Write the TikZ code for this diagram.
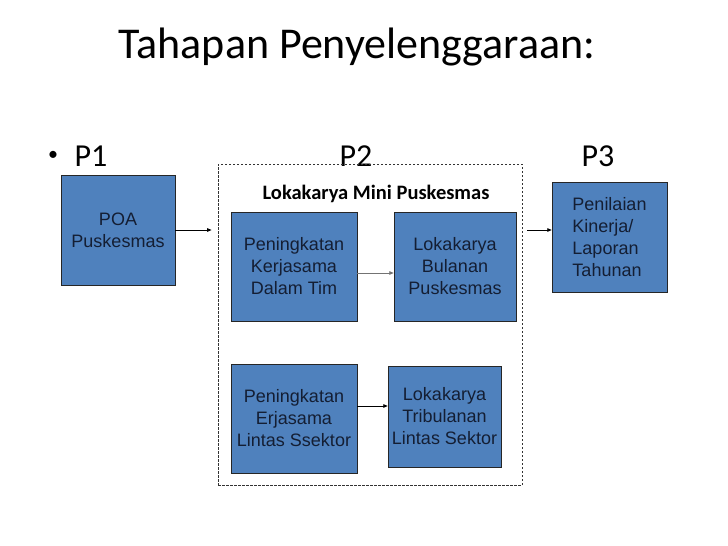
\documentclass[tikz,border=0pt]{standalone}
\usepackage{fontspec}
\setmainfont{Carlito}
\newfontfamily\arialfont{Liberation Sans}
\usetikzlibrary{arrows.meta}
\definecolor{boxblue}{HTML}{4F81BD}
\definecolor{boxtext}{HTML}{141E33}
\tikzset{
	stagebox/.style={draw=black!85, fill=boxblue, text=boxtext, align=center, inner sep=0pt,
		font=\arialfont\fontsize{18}{22}\selectfont},
	stagelabel/.style={anchor=base west, font=\fontsize{32}{36}\selectfont},
	flow/.style={-{Triangle[length=4.5pt, width=3.5pt]}, line width=0.8pt},
	groupbox/.style={draw=black!80, dashed, dash pattern=on 2.5pt off 1.5pt, line width=0.7pt}
}
\begin{document}
\begin{tikzpicture}[x=1pt, y=-1pt]
	\useasboundingbox (0,0) rectangle (728,546);
	\node[anchor=base, font=\fontsize{44}{50}\selectfont] (title) at (357,58) {Tahapan Penyelenggaraan:};
	\node[anchor=base, font=\fontsize{20}{24}\selectfont] (bullet) at (53,160) {\textbullet};
	\node[stagelabel] (p1) at (71,166) {P1};
	\node[stagelabel] (p2) at (336,166) {P2};
	\node[stagelabel] (p3) at (578,166) {P3};
	\node[groupbox, minimum width=304, minimum height=321] (p2box) at (370,324.5) {};
	\node[anchor=base, font=\bfseries\fontsize{20.5}{24}\selectfont] (mini) at (376,199) {Lokakarya Mini Puskesmas};
	\node[stagebox, minimum width=114, minimum height=110] (poa) at (118,230) {POA\\Puskesmas};
	\node[stagebox, minimum width=126, minimum height=109] (kerja) at (294,266.5) {Peningkatan\\Kerjasama\\Dalam Tim};
	\node[stagebox, minimum width=122, minimum height=109] (bulanan) at (455,266.5) {Lokakarya\\Bulanan\\Puskesmas};
	\node[stagebox, minimum width=126, minimum height=109] (erja) at (294,418.5) {Peningkatan\\Erjasama\\Lintas Ssektor};
	\node[stagebox, minimum width=113, minimum height=101] (tribulanan) at (444.5,416.5) {Lokakarya\\Tribulanan\\Lintas Sektor};
	\node[stagebox, align=left, minimum width=115, minimum height=110] (penilaian) at (609.5,237) {Penilaian\\Kinerja/\\Laporan\\Tahunan};
	\draw[flow, shorten >=6pt] (poa.east) -- (poa.east -| p2box.west);
	\draw[flow, shorten <=5pt] (p2box.east |- poa.east) -- (penilaian.west |- poa.east);
	\draw[flow, draw=black!55] ([yshift=-6.5pt]kerja.east) -- ([yshift=-6.5pt]kerja.east -| bulanan.west);
	\draw[flow] ([yshift=12.5pt]erja.east) -- ([yshift=12.5pt]erja.east -| tribulanan.west);
\end{tikzpicture}
\end{document}
